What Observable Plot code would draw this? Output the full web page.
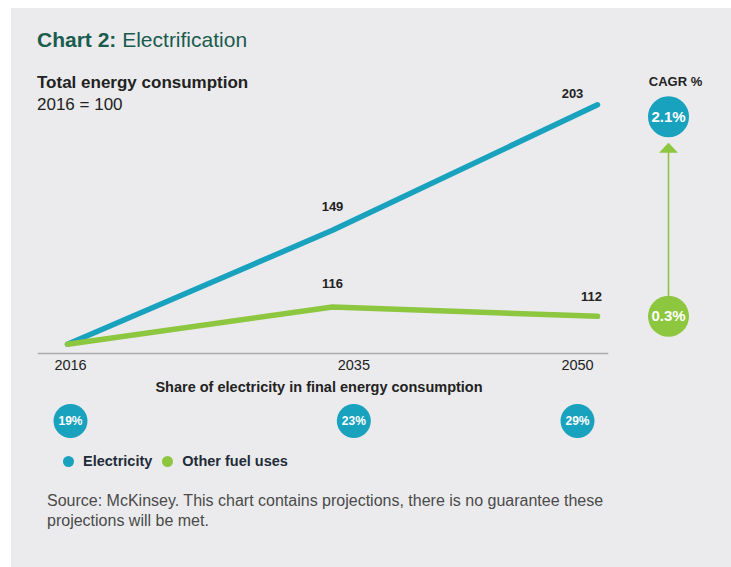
<!DOCTYPE html>
<html>
<head>
<meta charset="utf-8">
<script src="https://cdn.jsdelivr.net/npm/d3@7"></script>
<script src="https://cdn.jsdelivr.net/npm/@observablehq/plot@0.6"></script>
<style>
  html, body { margin: 0; padding: 0; background: #ffffff; }
  body { width: 731px; height: 567px; position: relative; overflow: hidden;
         font-family: "Liberation Sans", Arial, sans-serif; }
  #panel { position: absolute; left: 11px; top: 8px; width: 720px; height: 559px; background: #ebebed; }
  .abs { position: absolute; white-space: nowrap; }
  #title { left: 37px; top: 29px; font-size: 21px; line-height: 21px; color: #1a5c4d; }
  #title b { font-weight: bold; }
  #sub1 { left: 37px; top: 74px; font-size: 17px; line-height: 17px; font-weight: bold; color: #222; }
  #sub2 { left: 37px; top: 96px; font-size: 17px; line-height: 17px; color: #222; }
  #main { left: 0; top: 60px; }
  #lower { left: 0; top: 355px; }
  #legend { left: 63px; top: 453px; display: flex; align-items: center; font-size: 14.5px; line-height: 17px;
            font-weight: bold; color: #1f2b38; }
  #legend .item { display: flex; align-items: center; margin-right: 10px; }
  #legend .sw { width: 11px; height: 11px; border-radius: 50%; margin-right: 9px; }
  #caption { left: 47px; top: 491px; font-size: 16px; line-height: 19.5px; color: #4a4a4a; }
</style>
</head>
<body>
<div id="panel"></div>
<div id="title" class="abs"><b>Chart 2:</b> Electrification</div>
<div id="sub1" class="abs">Total energy consumption</div>
<div id="sub2" class="abs">2016 = 100</div>
<div id="main" class="abs"></div>
<div id="lower" class="abs"></div>
<div id="legend" class="abs"></div>
<div id="caption" class="abs">Source: McKinsey. This chart contains projections, there is no guarantee these<br>projections will be met.</div>
<script>
// ---- data ----
const years = ["2016", "2035", "2050"];
const electricity = [100, 149, 203];
const otherFuelUses = [100, 116, 112];
const seriesNames = ["Electricity", "Other fuel uses"];
const seriesColors = ["#19a2be", "#8dc63f"];
const cagrPercent = [2.1, 0.3];
const shareYears = [2016, 2035, 2050];
const shareOfElectricity = [19, 23, 29];
const shareTitle = "Share of electricity in final energy consumption";
const cagrTitle = "CAGR %";

// ---- derived tables ----
const seriesValues = [electricity, otherFuelUses];
const rows = seriesNames.flatMap((s, k) => years.map((y, i) => ({series: s, year: y, value: seriesValues[k][i]})));
const last = years[years.length - 1];
const mid = years[1];
const cagrRows = seriesNames.map((s, k) => ({series: s, cagr: cagrPercent[k], end: seriesValues[k][seriesValues[k].length - 1]}));

const font = "'Liberation Sans', Arial, sans-serif";
const panelBg = "#ebebed";
const labelFill = "#222";

// flat arrow head symbol
const arrowHead = {
  draw(ctx, size) {
    const r = Math.sqrt(size / Math.PI);
    ctx.moveTo(0, -r / 2);
    ctx.lineTo(r * 0.95, r / 2);
    ctx.lineTo(-r * 0.95, r / 2);
    ctx.closePath();
  }
};

const cagrDx = 71;

const main = Plot.plot({
  width: 731, height: 300,
  marginLeft: 38, marginRight: 124, marginTop: 28, marginBottom: 7,
  style: {fontFamily: font, background: "transparent", overflow: "visible"},
  x: {type: "point", domain: years, padding: 0.0716, align: 0.737, axis: null},
  y: {domain: [96, 210], axis: null},
  color: {domain: seriesNames, range: seriesColors},
  marks: [
    Plot.frame({anchor: "bottom", stroke: "#ababab", strokeWidth: 1.5}),
    ...seriesNames.map(s => Plot.line(rows.filter(d => d.series === s), {
      x: "year", y: "value", stroke: "series", strokeWidth: 5.5,
      strokeLinecap: "round", strokeLinejoin: "round"
    })),
    Plot.text(rows.filter(d => d.year === mid), {
      x: "year", y: "value", text: "value", dy: -23,
      fontSize: 13, fontWeight: "bold", fill: labelFill
    }),
    Plot.text(rows.filter(d => d.year === last && d.series === seriesNames[0]), {
      x: "year", y: "value", text: "value", dx: -25, dy: -11,
      fontSize: 13, fontWeight: "bold", fill: labelFill
    }),
    Plot.text(rows.filter(d => d.year === last && d.series === seriesNames[1]), {
      x: "year", y: "value", text: "value", dx: -6, dy: -19,
      fontSize: 13, fontWeight: "bold", fill: labelFill
    }),
    // CAGR column
    Plot.text([cagrTitle], {
      x: () => last, text: d => d, frameAnchor: "top", lineAnchor: "middle", dx: cagrDx + 7, dy: -7,
      fontSize: 13, fontWeight: "bold", fill: labelFill
    }),
    Plot.link([cagrRows], {
      x1: () => last, x2: () => last,
      y1: d => d[1].end, y2: d => d[0].end,
      dx: cagrDx, stroke: seriesColors[1], strokeWidth: 1.6
    }),
    Plot.dot([cagrRows[0]], {
      x: () => last, y: "end", dx: cagrDx, dy: 43, r: 10,
      symbol: arrowHead, fill: seriesColors[1], stroke: "none"
    }),
    Plot.dot([cagrRows[0]], {
      x: () => last, y: "end", dx: cagrDx, dy: 12, r: 23.5,
      fill: "series", stroke: panelBg, strokeWidth: 6
    }),
    Plot.dot([cagrRows[1]], {
      x: () => last, y: "end", dx: cagrDx, r: 20.5, fill: "series"
    }),
    Plot.text([cagrRows[0]], {
      x: () => last, y: "end", dx: cagrDx, dy: 12, text: d => d.cagr.toFixed(1) + "%",
      fill: "white", fontWeight: "bold", fontSize: 15
    }),
    Plot.text([cagrRows[1]], {
      x: () => last, y: "end", dx: cagrDx, text: d => d.cagr.toFixed(1) + "%",
      fill: "white", fontWeight: "bold", fontSize: 15
    })
  ]
});
document.getElementById("main").appendChild(main);

const lower = Plot.plot({
  width: 731, height: 95,
  marginLeft: 70, marginRight: 154, marginTop: 0, marginBottom: 0,
  style: {fontFamily: font, background: "transparent", overflow: "visible"},
  x: {domain: [shareYears[0], shareYears[shareYears.length - 1]], axis: null},
  marks: [
    Plot.text(shareYears, {x: d => d, text: d => String(d), frameAnchor: "top", lineAnchor: "middle",
      dy: 10, fontSize: 14.5, fill: labelFill}),
    Plot.text([shareTitle], {text: d => d, frameAnchor: "top", lineAnchor: "middle",
      dx: -5, dy: 32, fontSize: 14.5, fontWeight: "bold", fill: labelFill}),
    Plot.dot(shareYears, {x: d => d, frameAnchor: "top", dy: 65.5, r: 17, fill: seriesColors[0]}),
    Plot.text(shareYears, {x: d => d, text: (d, i) => shareOfElectricity[i] + "%", frameAnchor: "top",
      lineAnchor: "middle", dy: 65.5, fill: "white", fontWeight: "bold", fontSize: 12})
  ]
});
document.getElementById("lower").appendChild(lower);

// legend
const legend = document.getElementById("legend");
seriesNames.forEach((s, k) => {
  const item = document.createElement("div");
  item.className = "item";
  const sw = document.createElement("span");
  sw.className = "sw";
  sw.style.background = seriesColors[k];
  const t = document.createElement("span");
  t.textContent = s;
  item.appendChild(sw);
  item.appendChild(t);
  legend.appendChild(item);
});
</script>
</body>
</html>
